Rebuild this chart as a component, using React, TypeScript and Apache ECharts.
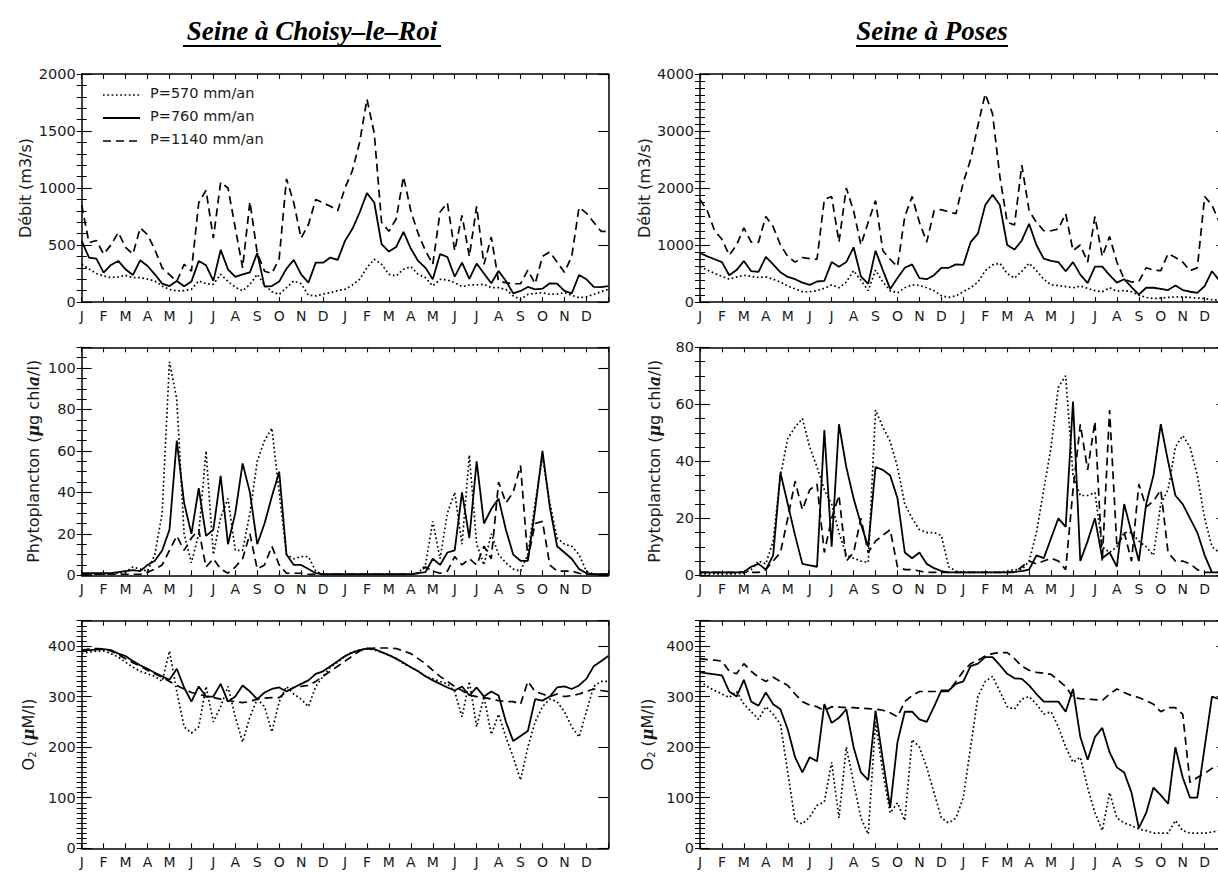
import React, { useEffect, useRef } from "react";
import * as echarts from "echarts";

const MONTHS = ["J", "F", "M", "A", "M", "J", "J", "A", "S", "O", "N", "D"];
const LEGEND_LABELS = ["P=570 mm/an", "P=760 mm/an", "P=1140 mm/an"];
const TITLES = ["Seine à Choisy–le–Roi", "Seine à Poses"];

// ten-day values over two years (73 points, x = index / 3 months)
const TL_570 = [331, 290, 250, 228, 214, 220, 234, 214, 214, 200, 185, 140, 110, 97, 100, 111, 185, 160, 155, 243, 180, 130, 97, 155, 243, 150, 90, 67, 126, 185, 160, 60, 53, 70, 82, 100, 111, 149, 199, 302, 375, 331, 243, 228, 287, 310, 243, 214, 141, 199, 193, 170, 135, 149, 150, 155, 126, 126, 110, 53, 23, 67, 75, 82, 67, 70, 82, 59, 38, 45, 67, 90, 111];
const TL_760 = [536, 390, 380, 258, 325, 360, 287, 237, 366, 316, 243, 161, 140, 185, 138, 179, 360, 322, 185, 457, 287, 220, 243, 260, 430, 135, 140, 179, 293, 369, 243, 170, 345, 345, 390, 369, 536, 640, 785, 955, 873, 507, 442, 483, 615, 469, 360, 300, 200, 420, 395, 222, 345, 202, 337, 250, 164, 272, 185, 76, 97, 132, 111, 117, 164, 161, 97, 76, 237, 200, 132, 130, 140];
const TL_1140 = [850, 520, 540, 420, 500, 610, 480, 420, 650, 590, 460, 300, 240, 180, 330, 270, 870, 980, 560, 1050, 1000, 650, 300, 880, 430, 270, 250, 380, 1080, 870, 560, 680, 900, 870, 840, 800, 1000, 1150, 1400, 1780, 1480, 700, 620, 730, 1100, 800, 600, 450, 330, 790, 870, 450, 760, 400, 840, 330, 570, 180, 170, 160, 160, 280, 160, 400, 440, 350, 260, 400, 830, 780, 700, 620, 620];

const TR_570 = [620, 560, 500, 450, 400, 440, 470, 450, 430, 440, 400, 350, 280, 230, 180, 180, 200, 240, 300, 250, 350, 550, 380, 200, 560, 350, 200, 160, 250, 300, 290, 250, 200, 110, 80, 110, 180, 250, 350, 550, 650, 680, 500, 420, 540, 680, 550, 400, 300, 290, 270, 250, 280, 240, 200, 180, 250, 190, 200, 180, 120, 80, 60, 70, 80, 90, 90, 80, 70, 60, 40, 30, 30];
const TR_760 = [860, 800, 750, 700, 470, 560, 720, 540, 530, 790, 660, 520, 440, 400, 340, 300, 360, 370, 700, 620, 700, 960, 450, 320, 900, 560, 230, 420, 600, 660, 420, 400, 470, 600, 600, 660, 650, 1050, 1200, 1700, 1880, 1700, 1000, 920, 1080, 1370, 1000, 760, 720, 700, 540, 700, 480, 330, 620, 620, 470, 340, 400, 260, 130, 250, 250, 230, 210, 290, 210, 180, 160, 280, 540, 380, 420];
const TR_1140 = [1800, 1600, 1250, 1100, 820, 1000, 1300, 1050, 1050, 1500, 1320, 1000, 800, 700, 780, 760, 750, 1800, 1850, 1050, 2000, 1600, 1000, 1400, 1780, 900, 750, 620, 1500, 1850, 1400, 1050, 1600, 1620, 1580, 1550, 2100, 2500, 3100, 3650, 3300, 2200, 1400, 1350, 2400, 1600, 1400, 1250, 1250, 1280, 1550, 900, 1000, 700, 1500, 800, 1150, 700, 400, 350, 360, 600, 560, 550, 850, 780, 700, 550, 600, 1850, 1700, 1400, 1300];

const ML_570 = [0.5, 0.5, 0.5, 0.5, 0.8, 1, 1.5, 4, 3, 2, 10, 30, 103, 85, 20, 6, 20, 60, 10, 28, 37, 12, 12, 30, 55, 65, 71, 40, 10, 8, 9, 9, 2, 0.5, 0.5, 0.5, 0.5, 0.5, 0.5, 0.5, 0.5, 0.5, 0.5, 0.5, 0.5, 0.5, 1, 5, 26, 8, 30, 40, 15, 58, 15, 5, 20, 10, 6, 3, 2, 10, 35, 57, 35, 18, 15, 14, 10, 2, 0.5, 0.3, 0.2];
const ML_760 = [1, 1, 1, 1, 1, 1.5, 2, 2.5, 2, 5, 7, 12, 22, 65, 35, 20, 42, 19, 22, 48, 15, 30, 54, 40, 15, 25, 38, 50, 10, 5, 5, 3, 1, 0.5, 0.5, 0.5, 0.5, 0.5, 0.5, 0.5, 0.5, 0.5, 0.5, 0.5, 0.5, 0.5, 1, 1.5, 8, 5, 11, 12, 40, 18, 55, 25, 32, 37, 22, 10, 7, 7, 32, 60, 33, 14, 11, 8, 3, 1, 0.5, 0.5, 0.5];
const ML_1140 = [0.5, 0.5, 0.5, 0.5, 0.5, 0.5, 0.5, 0.5, 0.5, 1.5, 3, 5, 12, 19, 12, 18, 22, 4, 8, 3, 1, 4, 8, 20, 3, 5, 14, 5, 1, 1, 1, 0.5, 0.5, 0.5, 0.5, 0.5, 0.5, 0.5, 0.5, 0.5, 0.5, 0.5, 0.5, 0.5, 0.5, 0.5, 1, 4, 2, 1, 2, 9, 5, 8, 5, 14, 8, 45, 35, 40, 53, 8, 25, 26, 5, 2, 2, 2, 1, 0.5, 0.5, 0.5, 0.5];

const MR_570 = [0.5, 0.5, 0.5, 0.5, 0.5, 0.5, 0.8, 2, 5, 4, 12, 35, 48, 52, 55, 45, 38, 30, 25, 15, 7, 6, 5, 4.5, 58, 52, 47, 38, 25, 20, 16, 15, 15, 14, 3, 1.5, 1, 1, 1, 1, 1, 1, 1.5, 2, 2, 5, 15, 30, 45, 66, 70, 35, 28, 28, 29, 10, 8, 10, 15, 15, 12, 10, 7, 25, 30, 45, 49, 45, 35, 20, 10, 8, 5];
const MR_760 = [1, 1, 1, 1, 1, 1, 1.2, 3, 4, 2, 7, 36, 25, 14, 4, 3.5, 3, 51, 10, 53, 38, 27, 18, 10, 38, 37, 35, 27, 8, 6, 8, 4, 2.5, 1.5, 1, 1, 1, 1, 1, 1, 1, 1, 1, 1.2, 1.5, 2, 7, 6, 13, 20, 17, 61, 5, 12, 20, 6, 8, 3, 25, 15, 5, 25, 35, 53, 40, 28, 25, 20, 15, 7, 1, 1, 1];
const MR_1140 = [1, 1, 1, 1, 1, 1, 1, 1, 1, 2, 5, 8, 20, 33, 23, 30, 32, 8, 20, 28, 5, 8, 20, 8, 12, 14, 16, 3, 2, 2, 1.5, 1, 1, 1, 1, 1, 1, 1, 1, 1, 1, 1, 1, 1, 3, 5, 4, 5, 6, 5, 2, 30, 53, 37, 54, 5, 58, 10, 15, 5, 32, 24, 26, 30, 8, 5, 5, 4, 2, 1, 1, 1, 1];

const BL_570 = [385, 388, 390, 390, 385, 378, 368, 358, 350, 345, 340, 330, 390, 310, 240, 228, 240, 320, 250, 280, 320, 260, 210, 260, 295, 280, 230, 290, 320, 305, 295, 280, 320, 340, 358, 368, 380, 388, 392, 395, 392, 388, 382, 375, 365, 358, 350, 340, 335, 330, 325, 310, 260, 330, 240, 300, 225, 265, 220, 180, 135, 200, 250, 280, 295, 290, 270, 240, 220, 270, 320, 330, 330];
const BL_760 = [390, 392, 393, 394, 392, 385, 380, 370, 362, 355, 347, 340, 333, 355, 318, 290, 320, 300, 300, 325, 290, 300, 322, 310, 295, 308, 315, 318, 310, 318, 325, 332, 345, 350, 360, 370, 380, 387, 392, 395, 394, 388, 382, 375, 367, 358, 350, 340, 332, 325, 318, 312, 320, 302, 318, 300, 310, 302, 250, 212, 222, 232, 295, 292, 300, 318, 320, 315, 322, 335, 360, 370, 380];
const BL_1140 = [392, 394, 395, 394, 390, 383, 375, 367, 360, 352, 345, 338, 330, 322, 315, 308, 305, 300, 298, 295, 292, 290, 288, 290, 295, 297, 298, 298, 310, 318, 320, 322, 330, 340, 350, 360, 370, 380, 390, 395, 396, 396, 396, 395, 390, 385, 375, 365, 352, 340, 330, 320, 312, 303, 300, 298, 295, 292, 290, 290, 285, 330, 310, 305, 300, 305, 300, 302, 305, 310, 315, 312, 310];

const BR_570 = [330, 320, 312, 305, 298, 310, 285, 270, 255, 280, 265, 245, 150, 55, 48, 62, 85, 92, 170, 60, 200, 130, 60, 28, 250, 150, 70, 90, 55, 215, 200, 160, 110, 60, 50, 60, 100, 200, 300, 330, 340, 310, 280, 275, 295, 300, 285, 265, 270, 240, 200, 170, 180, 120, 70, 35, 110, 60, 50, 45, 38, 35, 30, 30, 30, 55, 35, 30, 30, 30, 32, 35, 35];
const BR_760 = [348, 346, 344, 342, 310, 300, 333, 290, 282, 308, 285, 275, 235, 180, 150, 180, 172, 285, 248, 258, 275, 200, 150, 135, 272, 175, 80, 210, 270, 270, 255, 250, 280, 312, 312, 325, 330, 360, 365, 378, 378, 362, 345, 336, 335, 322, 305, 290, 290, 290, 270, 315, 220, 175, 220, 238, 190, 160, 150, 110, 40, 70, 120, 105, 88, 200, 140, 100, 100, 200, 300, 295, 300];
const BR_1140 = [375, 373, 372, 370, 350, 345, 365, 350, 338, 330, 338, 330, 322, 305, 290, 283, 280, 272, 280, 279, 278, 278, 277, 276, 275, 273, 268, 260, 290, 302, 310, 310, 310, 310, 310, 330, 350, 365, 372, 380, 385, 387, 387, 375, 360, 352, 348, 346, 344, 332, 320, 298, 296, 295, 294, 292, 305, 315, 308, 302, 298, 292, 285, 270, 278, 278, 265, 130, 140, 148, 158, 163, 168];

const FONT = "DejaVu Sans";
const NAME_SIZE = 16;

const NAME_DEBIT = "Débit (m3/s)";
const NAME_PHYTO = "Phytoplancton ({mu|μ}g chl{al|a}/l)";
const NAME_O2 = "O{sub|2} ({mu|μ}M/l)";

const PANELS = [
  { left: 81.7, top: 74, height: 228, max: 2000, interval: 500, minor: 100, name: NAME_DEBIT, nameCenter: 32, data: [TL_570, TL_760, TL_1140] },
  { left: 700, top: 74, height: 228, max: 4000, interval: 1000, minor: 125, name: NAME_DEBIT, nameCenter: 651, data: [TR_570, TR_760, TR_1140] },
  { left: 81.7, top: 347.3, height: 228, max: 110, interval: 20, minor: 5, name: NAME_PHYTO, nameCenter: 34, data: [ML_570, ML_760, ML_1140] },
  { left: 700, top: 347.3, height: 228, max: 80, interval: 20, minor: 5, name: NAME_PHYTO, nameCenter: 655, data: [MR_570, MR_760, MR_1140] },
  { left: 81.7, top: 620.7, height: 227.6, max: 450, interval: 100, minor: 10, name: NAME_O2, nameCenter: 29, data: [BL_570, BL_760, BL_1140] },
  { left: 700, top: 620.7, height: 227.6, max: 450, interval: 100, minor: 10, name: NAME_O2, nameCenter: 648, data: [BR_570, BR_760, BR_1140] },
];
const PANEL_WIDTH = 526.6;

const LINE_STYLES: any[] = [
  { color: "#000", width: 1.7, type: [1.7, 2.6], cap: "butt" },
  { color: "#000", width: 1.8, type: "solid" },
  { color: "#000", width: 1.7, type: [8, 5], cap: "butt" },
];

export default function App() {
  const ref = useRef<HTMLDivElement>(null);

  useEffect(() => {
    if (!ref.current) return;
    const chart = echarts.init(ref.current, null, { renderer: "svg" });

    const grids: any[] = [];
    const xAxes: any[] = [];
    const yAxes: any[] = [];
    const series: any[] = [];
    const axisColor = "#000";
    const textColor = "#1a1a1a";

    PANELS.forEach((p, g) => {
      grids.push({ left: p.left, top: p.top, width: PANEL_WIDTH, height: p.height, containLabel: false });
      const xBase = {
        type: "value",
        gridIndex: g,
        min: 0,
        max: 24,
        interval: 1,
        splitLine: { show: false },
        axisLine: { show: true, onZero: false, lineStyle: { color: axisColor, width: 1.5 } },
        axisTick: { show: true, inside: true, length: 5, lineStyle: { color: axisColor, width: 1.1 } },
      };
      xAxes.push({
        ...xBase,
        position: "bottom",
        axisLabel: {
          show: true,
          margin: 7,
          color: textColor,
          fontFamily: FONT,
          fontSize: 14,
          formatter: (v: number) => (v < 24 ? MONTHS[Math.round(v) % 12] : ""),
        },
      });
      xAxes.push({ ...xBase, position: "top", axisLabel: { show: false } });

      const yBase = {
        type: "value",
        gridIndex: g,
        min: 0,
        max: p.max,
        splitLine: { show: false },
      };
      const rich = {
        mu: { fontFamily: "DejaVu Serif", fontStyle: "italic", fontWeight: "bold", fontSize: NAME_SIZE, color: textColor },
        al: { fontFamily: "DejaVu Serif", fontStyle: "italic", fontWeight: "bold", fontSize: NAME_SIZE, color: textColor },
        sub: { fontFamily: FONT, fontSize: 10, color: textColor, verticalAlign: "bottom", lineHeight: 18 },
      };
      yAxes.push({
        ...yBase,
        position: "left",
        interval: p.interval,
        axisLine: { show: true, onZero: false, lineStyle: { color: axisColor, width: 1.5 } },
        axisTick: { show: true, inside: true, length: 10, lineStyle: { color: axisColor, width: 1.1 } },
        axisLabel: {
          show: true,
          margin: 6,
          color: textColor,
          fontFamily: FONT,
          fontSize: 14.5,
          formatter: (v: number) => (v % p.interval === 0 ? String(v) : ""),
        },
        name: p.name,
        nameLocation: "middle",
        nameRotate: 90,
        nameGap: p.left - p.nameCenter - NAME_SIZE / 2,
        nameTextStyle: { fontFamily: FONT, fontSize: NAME_SIZE, color: textColor, lineHeight: 18, rich },
      });
      yAxes.push({
        ...yBase,
        position: "left",
        interval: p.minor,
        axisLine: { show: false },
        axisTick: { show: true, inside: true, length: 5, lineStyle: { color: axisColor, width: 1 } },
        axisLabel: { show: false },
      });
      yAxes.push({
        ...yBase,
        position: "right",
        interval: p.interval,
        axisLine: { show: true, onZero: false, lineStyle: { color: axisColor, width: 1.5 } },
        axisTick: { show: true, inside: true, length: 10, lineStyle: { color: axisColor, width: 1.1 } },
        axisLabel: { show: false },
      });
      yAxes.push({
        ...yBase,
        position: "right",
        interval: p.minor,
        axisLine: { show: false },
        axisTick: { show: true, inside: true, length: 5, lineStyle: { color: axisColor, width: 1 } },
        axisLabel: { show: false },
      });

      p.data.forEach((vals, k) => {
        series.push({
          type: "line",
          name: LEGEND_LABELS[k],
          xAxisIndex: 2 * g,
          yAxisIndex: 4 * g,
          data: vals.map((v, i) => [i / 3, v]),
          symbol: "none",
          showSymbol: false,
          silent: true,
          clip: true,
          lineStyle: LINE_STYLES[k],
          z: 3 + k,
        });
      });
    });

    const legendRows = [95, 118, 141];
    const graphics: any[] = [];
    legendRows.forEach((y, k) => {
      const ls = LINE_STYLES[k];
      graphics.push({
        type: "line",
        shape: { x1: 103, y1: y, x2: 140, y2: y },
        style: {
          stroke: "#000",
          lineWidth: ls.width,
          lineDash: Array.isArray(ls.type) ? ls.type : null,
          lineCap: "butt",
        },
      });
      graphics.push({
        type: "text",
        x: 150,
        y: y - 2,
        style: { text: LEGEND_LABELS[k], fontFamily: FONT, fontSize: 14.5, fill: textColor, verticalAlign: "middle", align: "left" },
      });
    });
    const titleSpecs = [
      { cx: 312, x1: 183, x2: 441 },
      { cx: 932, x1: 856, x2: 1008 },
    ];
    titleSpecs.forEach((t, k) => {
      graphics.push({
        type: "text",
        x: t.cx,
        y: 31,
        style: {
          text: TITLES[k],
          fontFamily: "Liberation Serif",
          fontStyle: "italic",
          fontWeight: "bold",
          fontSize: 27,
          fill: "#000",
          align: "center",
          verticalAlign: "middle",
        },
      });
      graphics.push({
        type: "line",
        shape: { x1: t.x1, y1: 46, x2: t.x2, y2: 46 },
        style: { stroke: "#000", lineWidth: 2 },
      });
    });

    chart.setOption({
      animation: false,
      backgroundColor: "#fff",
      grid: grids,
      xAxis: xAxes,
      yAxis: yAxes,
      series,
      graphic: graphics,
    });

    return () => chart.dispose();
  }, []);

  return (
    <div style={{ position: "absolute", left: 0, top: 0, width: 1218, height: 873, overflow: "hidden", background: "#fff" }}>
      <div ref={ref} style={{ width: 1240, height: 873 }} />
    </div>
  );
}
